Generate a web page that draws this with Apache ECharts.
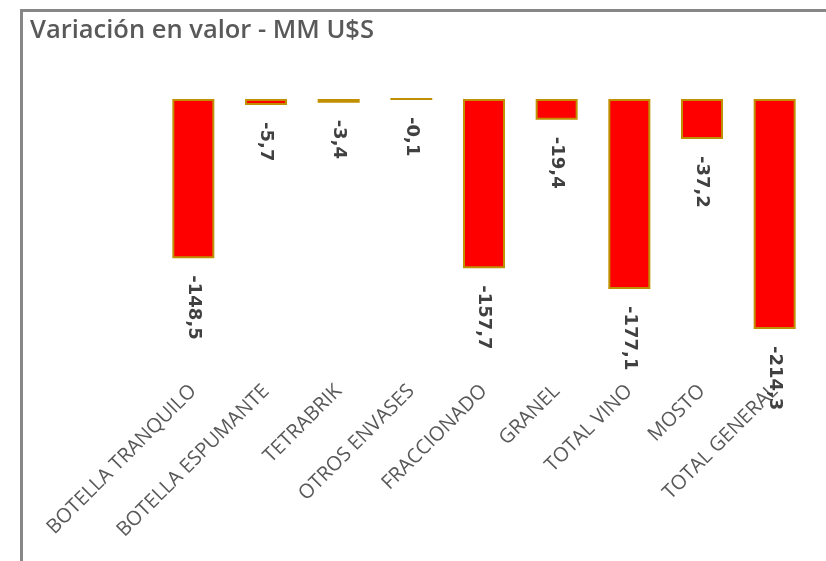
<!DOCTYPE html>
<html>
<head>
<meta charset="utf-8">
<script src="https://cdn.jsdelivr.net/npm/echarts@6/dist/echarts.min.js"></script>
<style>
  html, body { margin: 0; padding: 0; background: #fff; }
  #chart { width: 826px; height: 561px; }
</style>
</head>
<body>
<div id="chart"></div>
<script>
// categorias y valores (variacion en MM U$S)
var categorias = ['BOTELLA TRANQUILO', 'BOTELLA ESPUMANTE', 'TETRABRIK', 'OTROS ENVASES',
  'FRACCIONADO', 'GRANEL', 'TOTAL VINO', 'MOSTO', 'TOTAL GENERAL'];
var variacion = [-148.5, -5.7, -3.4, -0.1, -157.7, -19.4, -177.1, -37.2, -214.3];

var chart = echarts.init(document.getElementById('chart'));

chart.setOption({
  backgroundColor: '#fff',
  animation: false,
  graphic: [{
    type: 'rect',
    shape: { x: 21.5, y: 10.5, width: 1000, height: 1000 },
    style: { fill: 'none', stroke: '#878787', lineWidth: 3 },
    silent: true
  }],
  title: {
    text: 'Variación en valor - MM U$S',
    left: 25,
    top: 13,
    textStyle: {
      fontFamily: 'Open Sans',
      fontSize: 25.5,
      fontWeight: 600,
      color: '#595959'
    }
  },
  grid: {
    left: 157,
    right: 15,
    top: 99,
    height: 279,
    containLabel: false
  },
  xAxis: {
    type: 'category',
    data: categorias,
    axisLine: { show: false, onZero: false },
    axisTick: { show: false },
    axisLabel: {
      rotate: 45,
      interval: 0,
      margin: 10,
      fontFamily: 'Open Sans',
      fontSize: 20,
      color: '#595959'
    }
  },
  yAxis: {
    type: 'value',
    min: -260,
    max: 0,
    show: false
  },
  series: [{
    type: 'bar',
    data: variacion,
    barWidth: 42,
    itemStyle: {
      color: '#ff0000',
      borderColor: '#c09000',
      borderWidth: 2
    },
    label: {
      show: true,
      position: 'bottom',
      distance: 13,
      rotate: -90,
      align: 'left',
      verticalAlign: 'middle',
      offset: [4, 0],
      fontFamily: 'DejaVu Sans',
      fontSize: 18,
      fontWeight: 'bold',
      color: '#404040',
      formatter: function (p) {
        return p.value.toFixed(1).replace('.', ',');
      }
    }
  }]
});
</script>
</body>
</html>
